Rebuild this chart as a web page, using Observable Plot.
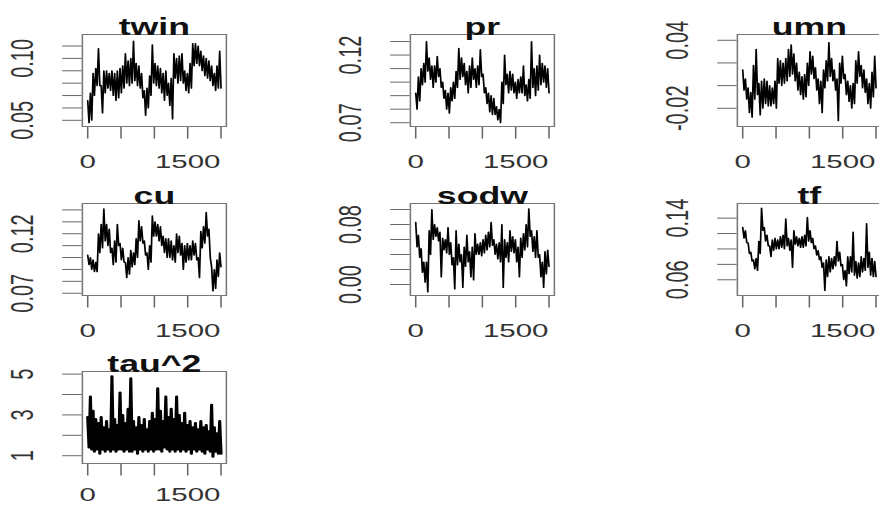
<!DOCTYPE html>
<html><head><meta charset="utf-8">
<script src="https://cdn.jsdelivr.net/npm/d3@7"></script>
<script src="https://cdn.jsdelivr.net/npm/@observablehq/plot@0.6"></script>
<style>
html,body{margin:0;padding:0;background:#fff;}
#chart{position:relative;width:879px;height:506px;overflow:hidden;background:#fff;}
#chart svg{position:absolute;}
</style></head><body><div id="chart"></div>
<script>
// ---------- data ----------
// Each trace is read as the upper and lower edge of the sampled band in 50 consecutive
// windows of 40 iterations; the drawn line visits high, low, high, low ... in order.
const panelNames = ["twin", "pr", "umn", "cu", "sodw", "tf", "tau^2"];

const twinHigh = [0.066,0.072,0.088,0.092,0.108,0.078,0.090,0.090,0.088,0.090,
 0.088,0.090,0.092,0.094,0.104,0.098,0.100,0.114,0.096,0.094,
 0.088,0.074,0.076,0.086,0.111,0.096,0.094,0.092,0.088,0.090,
 0.080,0.084,0.104,0.100,0.102,0.104,0.090,0.088,0.096,0.112,
 0.112,0.110,0.106,0.102,0.100,0.098,0.094,0.088,0.094,0.106];
const twinLow = [0.048,0.050,0.070,0.078,0.078,0.056,0.072,0.076,0.074,0.070,
 0.066,0.068,0.072,0.076,0.080,0.078,0.080,0.082,0.078,0.076,
 0.068,0.054,0.060,0.070,0.080,0.078,0.076,0.072,0.066,0.070,
 0.062,0.051,0.084,0.080,0.082,0.080,0.074,0.072,0.076,0.094,
 0.096,0.094,0.090,0.086,0.084,0.082,0.078,0.074,0.076,0.076];

const prHigh = [0.092,0.104,0.110,0.114,0.130,0.118,0.112,0.112,0.119,0.110,
 0.100,0.094,0.092,0.096,0.100,0.108,0.125,0.118,0.114,0.108,
 0.112,0.118,0.110,0.112,0.124,0.106,0.096,0.092,0.090,0.088,
 0.082,0.080,0.100,0.120,0.106,0.108,0.106,0.100,0.102,0.104,
 0.112,0.098,0.102,0.130,0.110,0.112,0.120,0.114,0.112,0.110];
const prLow = [0.080,0.086,0.098,0.100,0.108,0.102,0.096,0.100,0.104,0.096,
 0.088,0.080,0.077,0.086,0.088,0.096,0.102,0.104,0.098,0.092,
 0.096,0.102,0.096,0.098,0.104,0.092,0.084,0.078,0.076,0.076,
 0.072,0.070,0.084,0.098,0.092,0.094,0.092,0.088,0.092,0.092,
 0.090,0.086,0.088,0.096,0.090,0.094,0.098,0.100,0.096,0.092];

const umnHigh = [0.014,0.006,-0.002,-0.006,0.018,0.032,0.002,0.004,0.006,0.004,
 0.000,-0.002,0.004,0.024,0.022,0.020,0.024,0.032,0.036,0.028,
 0.020,0.012,0.008,0.010,0.020,0.030,0.026,0.016,0.006,0.004,
 0.014,0.022,0.038,0.024,0.014,0.006,0.020,0.026,0.010,0.004,
 0.000,0.002,0.022,0.030,0.018,0.014,0.006,0.002,0.012,0.026];
const umnLow = [-0.004,-0.012,-0.024,-0.028,-0.012,-0.008,-0.026,-0.020,-0.016,-0.018,
 -0.018,-0.016,-0.020,0.002,0.000,0.002,0.004,0.008,0.010,0.004,
 -0.004,-0.008,-0.012,-0.010,0.000,0.010,0.006,-0.004,-0.016,-0.024,
 -0.002,0.004,0.008,0.004,-0.004,-0.031,0.002,0.006,-0.008,-0.014,
 -0.020,-0.016,0.002,0.008,-0.002,-0.006,-0.016,-0.020,-0.010,-0.002];

const cuHigh = [0.102,0.100,0.098,0.096,0.120,0.128,0.141,0.128,0.124,0.108,
 0.114,0.128,0.112,0.108,0.096,0.100,0.106,0.104,0.116,0.131,
 0.126,0.114,0.104,0.110,0.135,0.130,0.128,0.126,0.118,0.116,
 0.116,0.114,0.110,0.120,0.118,0.112,0.110,0.112,0.110,0.114,
 0.112,0.100,0.122,0.126,0.138,0.124,0.092,0.090,0.098,0.104];
const cuLow = [0.094,0.090,0.088,0.088,0.104,0.108,0.114,0.110,0.104,0.094,
 0.096,0.110,0.098,0.096,0.083,0.086,0.092,0.094,0.100,0.114,
 0.112,0.102,0.090,0.096,0.118,0.118,0.114,0.110,0.104,0.100,
 0.100,0.098,0.096,0.104,0.102,0.090,0.096,0.098,0.098,0.102,
 0.098,0.083,0.108,0.112,0.118,0.100,0.072,0.074,0.084,0.092];

const sodwHigh = [0.083,0.066,0.048,0.030,0.030,0.072,0.100,0.080,0.076,0.070,
 0.062,0.060,0.076,0.056,0.036,0.072,0.054,0.040,0.050,0.066,
 0.044,0.050,0.068,0.054,0.056,0.060,0.066,0.070,0.083,0.060,
 0.054,0.056,0.080,0.060,0.056,0.072,0.064,0.060,0.050,0.062,
 0.068,0.080,0.101,0.072,0.064,0.072,0.040,0.030,0.044,0.046];
const sodwLow = [0.050,0.036,0.016,0.003,-0.010,0.040,0.060,0.064,0.058,0.010,
 0.046,0.042,0.040,0.026,-0.006,0.026,0.030,-0.004,0.024,0.030,
 0.010,0.006,0.040,0.040,0.038,0.042,0.046,0.050,0.052,0.040,
 0.034,0.030,-0.004,0.036,0.030,0.044,0.042,0.030,0.010,0.036,
 0.046,0.050,0.064,0.044,0.036,0.036,0.010,-0.004,0.014,0.024];

const tfHigh = [0.128,0.124,0.108,0.096,0.086,0.088,0.110,0.153,0.128,0.118,
 0.104,0.112,0.114,0.112,0.116,0.118,0.139,0.114,0.112,0.124,
 0.116,0.114,0.116,0.118,0.141,0.124,0.114,0.104,0.098,0.090,
 0.082,0.086,0.090,0.088,0.090,0.110,0.096,0.080,0.072,0.090,
 0.090,0.122,0.084,0.082,0.090,0.088,0.133,0.096,0.088,0.084];
const tfLow = [0.114,0.108,0.094,0.084,0.074,0.072,0.094,0.124,0.110,0.104,
 0.090,0.098,0.100,0.100,0.102,0.100,0.104,0.098,0.076,0.106,
 0.104,0.102,0.102,0.104,0.110,0.108,0.100,0.092,0.086,0.076,
 0.046,0.064,0.070,0.074,0.078,0.084,0.078,0.060,0.052,0.068,
 0.070,0.066,0.062,0.064,0.070,0.072,0.076,0.066,0.064,0.064];

const tauHigh = [2.9,3.9,3.2,2.8,2.6,2.9,2.4,2.7,2.3,4.9,
 2.8,2.5,4.1,3.0,2.6,3.3,4.8,2.7,2.4,2.9,
 2.5,2.8,2.3,2.7,3.1,2.8,4.3,3.2,2.7,3.9,
 2.9,3.3,2.8,3.9,3.0,2.6,3.1,2.5,2.7,2.4,
 2.6,2.3,2.7,2.4,2.5,2.2,3.5,2.4,2.1,2.7];
const tauLow = [1.4,1.3,1.2,1.3,1.1,1.3,1.2,1.3,1.2,1.3,
 1.2,1.3,1.3,1.2,1.3,1.2,1.2,1.3,1.1,1.3,
 1.2,1.3,1.2,1.3,1.2,1.3,1.3,1.2,1.4,1.3,
 1.2,1.3,1.2,1.3,1.2,1.3,1.2,1.3,1.1,1.3,
 1.2,1.3,1.2,1.1,1.3,1.2,0.95,1.2,1.1,1.1];

const iterMax = 2000;
const xTicks = [0, 500, 1000, 1500, 2000];
const xTickLabels = ["0", "1500"];

const twinTicks = [0.05, 0.06, 0.07, 0.08, 0.09, 0.10, 0.11];
const prTicks = [0.07, 0.08, 0.09, 0.10, 0.11, 0.12, 0.13];
const umnTicks = [-0.02, 0, 0.02, 0.04];
const cuTicks = [0.07, 0.08, 0.09, 0.10, 0.11, 0.12, 0.13, 0.14];
const sodwTicks = [0, 0.02, 0.04, 0.06, 0.08, 0.10];
const tfTicks = [0.06, 0.08, 0.10, 0.12, 0.14];
const tauTicks = [1, 2, 3, 4, 5];

const twinLabels = ["0.05", "0.10"];
const prLabels = ["0.07", "0.12"];
const umnLabels = ["-0.02", "0.04"];
const cuLabels = ["0.07", "0.12"];
const sodwLabels = ["0.00", "0.08"];
const tfLabels = ["0.06", "0.14"];
const tauLabels = ["1", "3", "5"];

// ---------- layout / scale configuration ----------
const S = 1.55;               // horizontal stretch of the reference picture
const ML = 52, MR = 6, MT = 30, MB = 44;
const FW = 144 / S, FH = 92;
const W = ML + FW + MR, H = MT + FH + MB;
const F = "'Liberation Sans', Arial, Helvetica, sans-serif";
const colLeft = [82.0, 409.7, 736.3];
const rowTop = [33.5, 203, 371];
const rowLabelDy = [27.5, 27.5, 24];

const panels = [
  {name: panelNames[0], high: twinHigh, low: twinLow, domain: [0.0450, 0.1193], ticks: twinTicks, labels: twinLabels, col: 0, row: 0, sw: 1.1},
  {name: panelNames[1], high: prHigh,   low: prLow,   domain: [0.0672, 0.1352], ticks: prTicks,   labels: prLabels,   col: 1, row: 0, sw: 1.1},
  {name: panelNames[2], high: umnHigh,  low: umnLow,  domain: [-0.0361, 0.0451], ticks: umnTicks, labels: umnLabels,  col: 2, row: 0, sw: 1.1},
  {name: panelNames[3], high: cuHigh,   low: cuLow,   domain: [0.0681, 0.1454], ticks: cuTicks,   labels: cuLabels,   col: 0, row: 1, sw: 1.1},
  {name: panelNames[4], high: sodwHigh, low: sodwLow, domain: [-0.0147, 0.108], ticks: sodwTicks, labels: sodwLabels, col: 1, row: 1, sw: 1.1},
  {name: panelNames[5], high: tfHigh,   low: tfLow,   domain: [0.0396, 0.159],  ticks: tfTicks,   labels: tfLabels,   col: 2, row: 1, sw: 1.1},
  {name: panelNames[6], high: tauHigh,  low: tauLow,  domain: [0.618, 5.127],   ticks: tauTicks,  labels: tauLabels,  col: 0, row: 2, sw: 2.0}
];

const root = document.getElementById("chart");

for (const p of panels) {
  const seq = [];
  p.high.forEach((h, k) => { seq.push(h); seq.push(p.low[k]); });
  const n = seq.length;
  const data = seq.map((v, i) => ({iter: i * iterMax / (n - 1), v}));
  const svg = Plot.plot({
    width: W, height: H,
    marginLeft: ML, marginRight: MR, marginTop: MT, marginBottom: MB,
    style: {background: "transparent", color: "#666", overflow: "visible"},
    x: {domain: [-0.04 * iterMax, 1.04 * iterMax], ticks: xTicks, tickSize: 12.5, tickFormat: () => "", label: null},
    y: {domain: p.domain, ticks: p.ticks, tickSize: 12.5, tickFormat: () => "", label: null},
    marks: [
      Plot.frame({stroke: "#777", strokeWidth: 1}),
      Plot.line(data, {x: "iter", y: "v", stroke: "#000", strokeWidth: p.sw}),
      Plot.text([p.name], {text: d => d, frameAnchor: "top", lineAnchor: "bottom", dy: 0,
        fontSize: 23, fontWeight: "bold", fontFamily: F, fill: "#111"}),
      Plot.text(xTickLabels, {x: d => +d, text: d => d, frameAnchor: "bottom", lineAnchor: "top", dy: rowLabelDy[p.row],
        fontSize: 19, fontFamily: F, fill: "#333"}),
      Plot.text(p.labels, {y: d => +d, text: d => d, frameAnchor: "left", lineAnchor: "bottom",
        rotate: -90, textAnchor: "middle", dx: -31.6, fontSize: 20, fontFamily: F, fill: "#333"})
    ]
  });
  svg.setAttribute("preserveAspectRatio", "none");
  svg.setAttribute("width", W * S);
  svg.setAttribute("height", H);
  svg.style.width = (W * S) + "px";
  svg.style.height = H + "px";
  svg.style.maxWidth = "none";
  svg.style.left = (colLeft[p.col] - ML * S) + "px";
  svg.style.top = (rowTop[p.row] - MT) + "px";
  root.appendChild(svg);
}
</script></body></html>
